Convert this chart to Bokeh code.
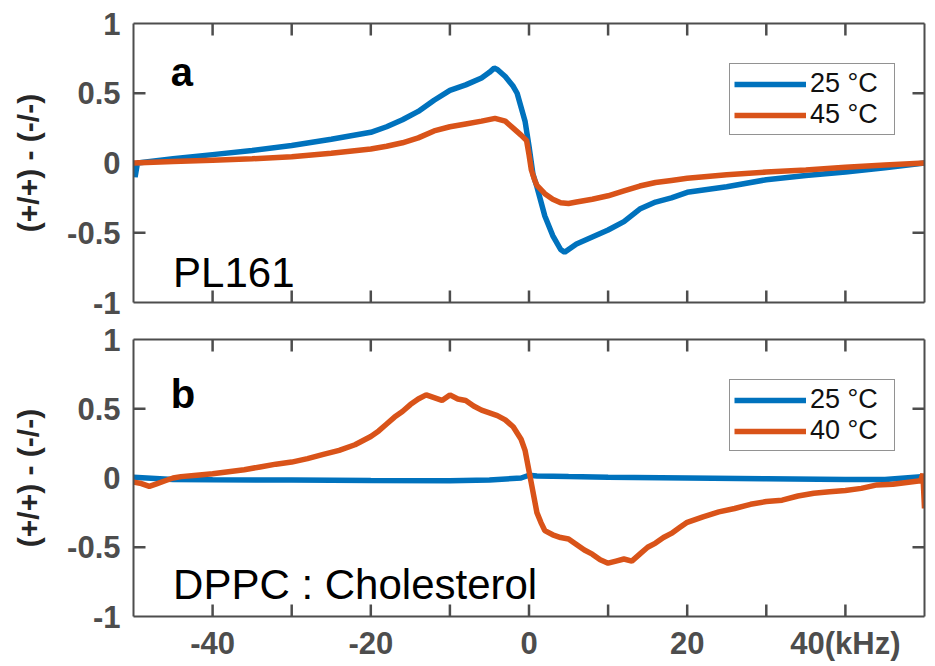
import math
from bokeh.plotting import figure
from bokeh.layouts import column
from bokeh.models import Range1d, LinearAxis, FixedTicker, Label
from bokeh.embed import file_html
from bokeh.resources import INLINE

# ---------------- data ----------------
# panel a : PL161
a25_x = [-50, -49.8, -49.5, -45, -40, -35, -30, -25, -20, -18, -16, -14, -12, -10, -8, -6, -5, -4.4, -4, -3, -2,
         -1.5, -1, -0.5, 0, 0.5, 1, 2, 3, 4, 4.5, 5, 6, 8, 10, 12, 14, 16, 18, 20, 25, 30, 35, 40, 45, 50]
a25_y = [0.0, -0.1, 0.0, 0.03, 0.06, 0.09, 0.125, 0.17, 0.22, 0.26, 0.31, 0.37, 0.45, 0.52, 0.56, 0.61, 0.65, 0.68,
         0.67, 0.62, 0.55, 0.5, 0.4, 0.3, 0.12, -0.08, -0.17, -0.38, -0.52, -0.62, -0.64, -0.62, -0.58, -0.53, -0.48,
         -0.42, -0.33, -0.28, -0.25, -0.21, -0.17, -0.12, -0.09, -0.065, -0.035, 0.0]
a45_x = [-50, -45, -40, -35, -30, -25, -20, -18, -16, -14, -12, -10, -8, -6, -4.3, -3, -2, -1, -0.3, 0, 0.3, 0.7,
         1, 2, 3, 4, 5, 6, 8, 10, 12, 14, 16, 18, 20, 25, 30, 35, 40, 45, 50]
a45_y = [0.0, 0.01, 0.02, 0.03, 0.045, 0.07, 0.1, 0.12, 0.145, 0.18, 0.23, 0.26, 0.28, 0.3, 0.32, 0.3, 0.25, 0.2,
         0.16, 0.06, -0.05, -0.12, -0.16, -0.22, -0.26, -0.285, -0.29, -0.28, -0.26, -0.235, -0.2, -0.165, -0.14,
         -0.125, -0.11, -0.085, -0.065, -0.05, -0.03, -0.015, 0.0]

# panel b : DPPC : Cholesterol
b25_x = [-50, -45, -40, -30, -20, -10, -5, -1, 0, 1, 5, 10, 20, 30, 40, 45, 50]
b25_y = [0.005, -0.01, -0.012, -0.015, -0.018, -0.02, -0.015, 0.0, 0.02, 0.015, 0.01, 0.005, 0.0, -0.005, -0.01,
         -0.01, 0.01]
b40_x = [-50, -49, -48, -47, -46, -45, -44, -42, -40, -38, -36, -34, -32, -30, -28, -26, -24, -22, -20, -19, -18,
         -17, -16, -15, -14, -13, -12, -11, -10, -9, -8, -7, -6, -5, -4, -3, -2, -1, -0.5, 0, 0.5, 1, 1.5, 2, 3, 4,
         5, 6, 7, 8, 9, 10, 11, 12, 13, 14, 15, 16, 17, 18, 19, 20, 22, 24, 26, 28, 30, 32, 34, 36, 38, 40, 42, 44,
         46, 48, 49.5, 49.8, 50]
b40_y = [-0.03, -0.04, -0.06, -0.04, -0.02, 0.0, 0.01, 0.02, 0.03, 0.045, 0.06, 0.08, 0.1, 0.115, 0.14, 0.17, 0.2,
         0.24, 0.3, 0.34, 0.39, 0.44, 0.48, 0.53, 0.57, 0.6, 0.58, 0.56, 0.6, 0.57, 0.56, 0.52, 0.49, 0.47, 0.45,
         0.42, 0.37, 0.28, 0.2, 0.05, -0.1, -0.25, -0.32, -0.38, -0.41, -0.43, -0.44, -0.48, -0.52, -0.55, -0.59,
         -0.615, -0.6, -0.585, -0.6, -0.55, -0.5, -0.47, -0.43, -0.4, -0.36, -0.32, -0.28, -0.245, -0.22, -0.19,
         -0.17, -0.16, -0.13, -0.11, -0.1, -0.09, -0.075, -0.05, -0.045, -0.03, -0.02, 0.03, -0.22]

x_ticks = [-40, -20, 0, 20, 40]
x_tick_labels = ["-40", "-20", "0", "20", "40(kHz)"]
x_minor_ticks = [-30, -10, 10, 30]
y_ticks = [-1, -0.5, 0, 0.5, 1]
y_tick_labels = ["-1", "-0.5", "0", "0.5", "1"]

BLUE = "#0072BD"
ORANGE = "#D95319"
AX = "#4D4D4D"
FONT = "Liberation Sans"

X0, X1, Y0, Y1 = -50.0, 50.0, -1.0, 1.0
TICK_PX = 12


def style_axis(ax, labelled):
    ax.axis_line_color = AX
    ax.axis_line_width = 2
    ax.major_tick_line_color = None
    ax.major_tick_in = 0
    ax.major_tick_out = 0
    ax.minor_tick_line_color = None
    ax.minor_tick_in = 0
    ax.minor_tick_out = 0
    ax.major_label_text_font = FONT
    ax.major_label_text_font_style = "bold"
    if labelled:
        ax.major_label_text_color = AX
        ax.major_label_text_font_size = "31px"
    else:
        ax.major_label_text_color = None
        ax.major_label_text_font_size = "1px"
        ax.major_label_standoff = 0


def make_panel(height, border_top, border_bottom, show_xlabels, series, letter, name, legend_y,
               letter_y, name_y):
    p = figure(width=927, height=height, output_backend="svg", toolbar_location=None,
               x_range=Range1d(X0, X1), y_range=Range1d(Y0, Y1),
               min_border_left=133, min_border_right=3, min_border_top=border_top,
               min_border_bottom=border_bottom)
    p.grid.visible = False
    p.outline_line_color = None
    p.background_fill_color = "white"
    p.border_fill_color = "white"

    xb = p.below[0]
    yl = p.left[0]
    top = LinearAxis()
    right = LinearAxis()
    p.add_layout(top, "above")
    p.add_layout(right, "right")

    for ax in (xb, top):
        ax.ticker = FixedTicker(ticks=x_ticks, minor_ticks=x_minor_ticks)
    for ax in (yl, right):
        ax.ticker = FixedTicker(ticks=y_ticks)

    style_axis(xb, show_xlabels)
    style_axis(top, False)
    style_axis(right, False)
    style_axis(yl, True)

    xb.major_label_overrides = {t: l for t, l in zip(x_ticks, x_tick_labels)}
    if show_xlabels:
        xb.major_label_standoff = 9

    yl.major_label_overrides = {t: l for t, l in zip(y_ticks, y_tick_labels)}
    yl.major_label_standoff = 13
    yl.axis_label = "(+/+) - (-/-)"
    yl.axis_label_text_font = FONT
    yl.axis_label_text_font_style = "bold"
    yl.axis_label_text_font_size = "30px"
    yl.axis_label_text_color = "#262626"
    yl.axis_label_standoff = 19

    # inward tick marks on all four sides (dash markers centred on the box edge, clipped to the frame)
    xt = [float(t) for t in sorted(x_ticks + x_minor_ticks)]
    yt = [float(t) for t in y_ticks if Y0 < t < Y1]
    for yy in (Y0, Y1):
        p.scatter(x=xt, y=[yy] * len(xt), marker="dash", size=2 * TICK_PX, angle=math.pi / 2,
                  line_color=AX, line_width=2.5)
    for xx in (X0, X1):
        p.scatter(x=[xx] * len(yt), y=yt, marker="dash", size=2 * TICK_PX, angle=0,
                  line_color=AX, line_width=2.5)

    for xs, ys, color, lab in series:
        p.line(xs, ys, line_color=color, line_width=5.5, legend_label=lab)

    lg = p.legend[0]
    lg.location = (596, legend_y)
    lg.label_text_font = FONT
    lg.label_text_font_size = "27px"
    lg.label_text_color = "#111111"
    lg.glyph_width = 72
    lg.glyph_height = 28
    lg.label_height = 28
    lg.label_width = 80
    lg.spacing = 0
    lg.padding = 4
    lg.margin = 0
    lg.label_standoff = 4
    lg.border_line_color = "#262626"
    lg.border_line_width = 1.5
    lg.background_fill_alpha = 1.0

    p.add_layout(Label(x=-45.3, y=letter_y, text=letter, text_font=FONT, text_font_style="bold",
                       text_font_size="40px", text_color="black", text_baseline="alphabetic"))
    p.add_layout(Label(x=-45.0, y=name_y, text=name, text_font=FONT, text_font_size="42px",
                       text_color="black", text_baseline="alphabetic"))
    return p


pa = make_panel(320, 23, 18, False,
                [(a25_x, a25_y, BLUE, "25 °C"), (a45_x, a45_y, ORANGE, "45 °C")],
                "a", "PL161", 167, 0.655, -0.785)
pb = make_panel(343, 19, 46, True,
                [(b25_x, b25_y, BLUE, "25 °C"), (b40_x, b40_y, ORANGE, "40 °C")],
                "b", "DPPC : Cholesterol", 165, 0.61, -0.77)
pb.x_range = pa.x_range

layout = column(pa, pb, spacing=0)
open("out.html", "w").write(file_html(layout, INLINE))
